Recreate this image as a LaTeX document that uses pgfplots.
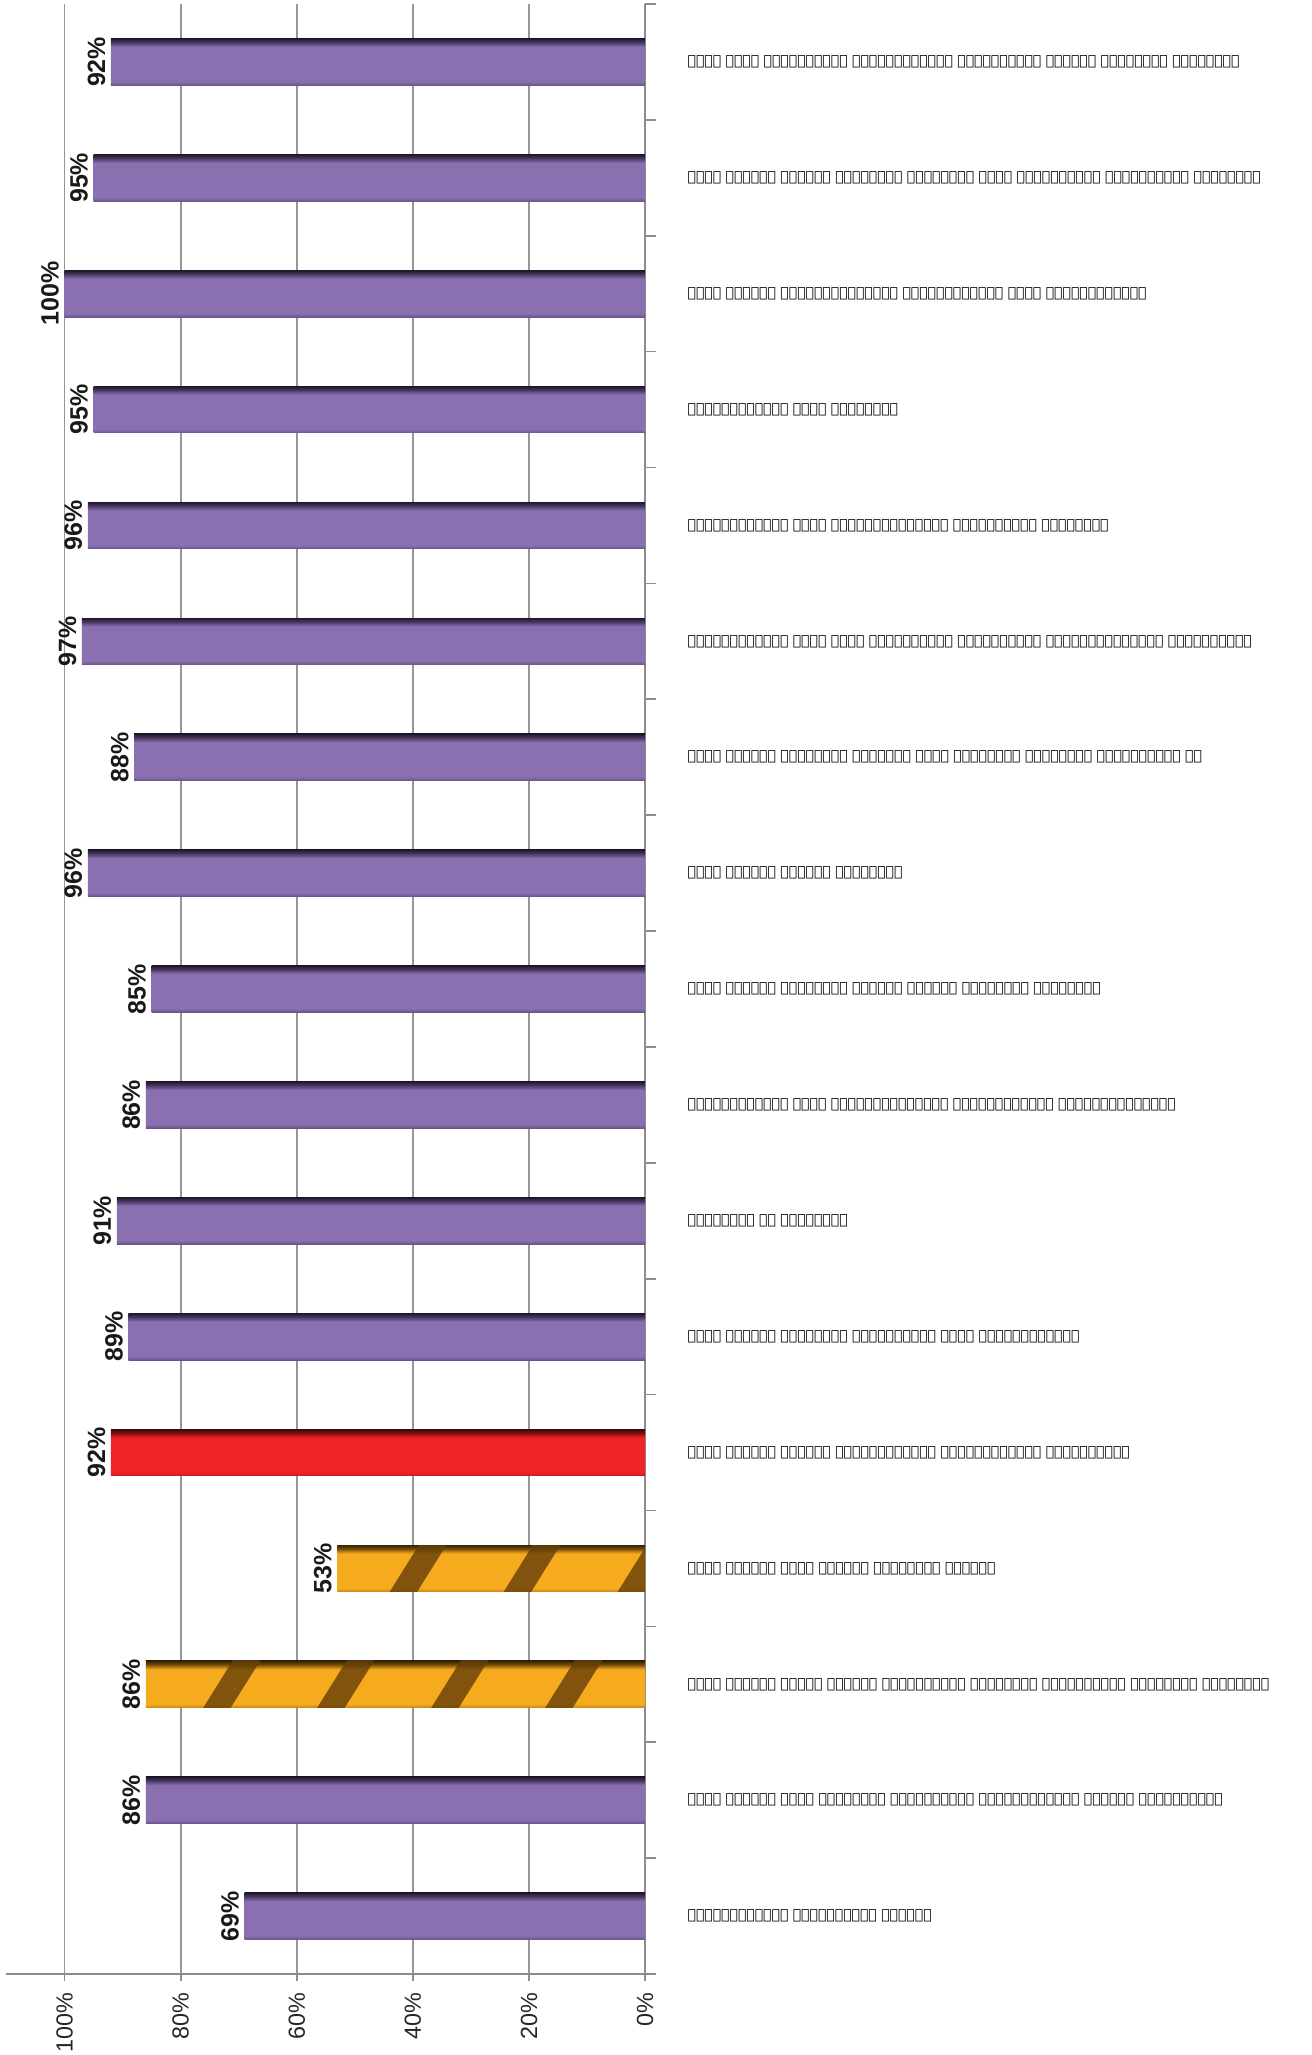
\documentclass[border=0pt]{standalone}
\usepackage{fontspec}
\setmainfont{Liberation Sans}
\TeXXeTstate=1
\newfontfamily\thaana{DejaVu Sans}
\usepackage{pgfplots}
\pgfplotsset{compat=1.18}
\usetikzlibrary{patterns.meta}

\definecolor{purp}{RGB}{138,112,176}
\definecolor{purpbot}{RGB}{104,84,138}
\definecolor{purpdark}{RGB}{72,55,98}
\definecolor{purpvdark}{RGB}{32,24,42}
\definecolor{redm}{RGB}{237,35,38}
\definecolor{redbot}{RGB}{190,28,30}
\definecolor{reddark}{RGB}{120,16,16}
\definecolor{redvdark}{RGB}{60,10,10}
\definecolor{orm}{RGB}{246,170,30}
\definecolor{orbot}{RGB}{200,135,22}
\definecolor{ordark}{RGB}{120,78,8}
\definecolor{orvdark}{RGB}{55,36,5}
\definecolor{stripe}{RGB}{100,62,8}
\definecolor{axisgray}{RGB}{140,140,140}
\definecolor{gridgray}{RGB}{150,150,150}

\pgfdeclareverticalshading{purplebar}{100bp}{color(0bp)=(purpbot); color(25bp)=(purpbot); color(29bp)=(purp); color(66bp)=(purp); color(71bp)=(purpdark); color(75bp)=(purpvdark); color(100bp)=(purpvdark)}
\pgfdeclareverticalshading{redbar}{100bp}{color(0bp)=(redbot); color(25bp)=(redbot); color(29bp)=(redm); color(66bp)=(redm); color(71bp)=(reddark); color(75bp)=(redvdark); color(100bp)=(redvdark)}
\pgfdeclareverticalshading{orangebar}{100bp}{color(0bp)=(orbot); color(25bp)=(orbot); color(29bp)=(orm); color(66bp)=(orm); color(71bp)=(ordark); color(75bp)=(orvdark); color(100bp)=(orvdark)}

\pgfplotsset{
	pbar/.style={draw=none, shading=purplebar},
	rbar/.style={draw=none, shading=redbar},
	obar/.style={draw=none, shading=orangebar,
		postaction={pattern={Lines[angle=58, distance=29pt, line width=7pt]}, pattern color=stripe, fill opacity=0.2}},
}

\begin{document}
\begin{tikzpicture}
\path[use as bounding box] (-1.95pt,-24.3pt) rectangle (391.4pt,592.2pt);
\begin{axis}[
	at={(0,0)}, anchor=south west,
	scale only axis,
	width=191.6pt, height=591pt,
	xbar, bar width=14pt, bar shift=0pt,
	x dir=reverse, y dir=reverse,
	xmin=0, xmax=110, ymin=0.5, ymax=17.5,
	axis x line*=bottom, axis y line*=left,
	ytick pos=right, yticklabel pos=right,
	axis line style={axisgray, line width=0.6pt},
	xtick={0,20,...,100},
	xticklabel={\pgfmathprintnumber[assume math mode=true]{\tick}\%},
	xticklabel style={rotate=90, anchor=east, font=\fontsize{7}{8}\selectfont, text=black!85},
	xmajorgrids, grid style={gridgray, line width=0.5pt},
	tick align=outside,
	major tick length=2.2pt, minor tick length=3.2pt,
	major x tick style={axisgray, line width=0.5pt},
	ytick={1,...,17},
	minor ytick={0.5,1.5,...,17.5},
	major y tick style={draw=none},
	minor y tick style={axisgray, line width=0.5pt},
	yticklabel style={anchor=west, font=\thaana\fontsize{4.2}{5}\selectfont, xshift=7pt},
	yticklabels={
		{\beginR ޚިދުމަތް ހޯދުމަށް އަންނަ ފަރާތްތަކާ މުވައްޒަފުން މުޢާމަލާތް ކުރާ ގޮތް\endR},
		{\beginR ބޭނުންވާ މަޢުލޫމާތު ފަސޭހައިން ލިބޭ ކަމަށާއި ވަގުތުން ޖަވާބު ކަމަށް ބުނި\endR},
		{\beginR މުވައްޒަފުން ހުރީ ހިތްހަމަޖެހޭ ފެންވަރެއްގައި ކަމަށް ބުނި\endR},
		{\beginR ޚިދުމަތާ މެދު ހިތްހަމަޖެހޭ\endR},
		{\beginR އިދާރާގެ ތަރުތީބާއި ސާފުތާހިރުކަމާ މެދު ހިތްހަމަޖެހޭ\endR},
		{\beginR ޝަކުވާތައް ބަލައިގަތުމާއި އެކަންކަން ހައްލުކުރާ ގޮތާ މެދު ހިތްހަމަޖެހޭ\endR},
		{\beginR ދޭ ޚިދުމަތުގެ ފެންވަރު ކުރިއަށް ވުރެ ރަނގަޅު ވެފައިވާ ކަމަށް ބުނި\endR},
		{\beginR ފޯމުތައް ފަސޭހަ ކަމަށް ބުނި\endR},
		{\beginR ޚިދުމަތް ލިބުމަށް ހޭދަވާ ވަގުތު މުނާސިބު ކަމަށް ބުނި\endR},
		{\beginR މުވައްޒަފުންގެ ޤާބިލުކަމާއި ހުނަރުވެރިކަމާ މެދު ހިތްހަމަޖެހޭ\endR},
		{\beginR ޚިދުމަތް ދޭ ގަޑިތައް\endR},
		{\beginR ވެބްސައިޓުން ލިބޭ މަޢުލޫމާތު ފުރިހަމަ ކަމަށް ބުނި\endR},
		{\beginR އޮންލައިން ޚިދުމަތްތައް ބޭނުންކުރުން ފަސޭހަ ކަމަށް ބުނި\endR},
		{\beginR ފޯނުން ގުޅުމުން ޖަވާބު ލިބޭ ކަމަށް ބުނި\endR},
		{\beginR ޚިދުމަތް ހޯދުމަށް އަންނައިރު ބޭނުންވާ ލިޔެކިޔުން ކުރިން އެނގޭ ކަމަށް ބުނި\endR},
		{\beginR އިދާރާއަށް އަންނަ ފަރާތްތަކަށް އިށީންނާނެ ތަންތަން ހުރި ކަމަށް ބުނި\endR},
		{\beginR ޖުމްލަ ގޮތެއްގައި ހިތްހަމަޖެހޭ\endR}
	},
	point meta=x,
	nodes near coords={\pgfmathprintnumber[assume math mode=true]{\pgfplotspointmeta}\%},
	nodes near coords style={rotate=90, anchor=south, inner sep=1.5pt, font=\bfseries\fontsize{7.5}{8}\selectfont, text=black!90},
	clip=false,
]
\addplot[pbar] coordinates {(92,1)};
\addplot[pbar] coordinates {(95,2)};
\addplot[pbar] coordinates {(100,3)};
\addplot[pbar] coordinates {(95,4)};
\addplot[pbar] coordinates {(96,5)};
\addplot[pbar] coordinates {(97,6)};
\addplot[pbar] coordinates {(88,7)};
\addplot[pbar] coordinates {(96,8)};
\addplot[pbar] coordinates {(85,9)};
\addplot[pbar] coordinates {(86,10)};
\addplot[pbar] coordinates {(91,11)};
\addplot[pbar] coordinates {(89,12)};
\addplot[rbar] coordinates {(92,13)};
\addplot[obar] coordinates {(53,14)};
\addplot[obar] coordinates {(86,15)};
\addplot[pbar] coordinates {(86,16)};
\addplot[pbar] coordinates {(69,17)};
\end{axis}
\end{tikzpicture}
\end{document}
